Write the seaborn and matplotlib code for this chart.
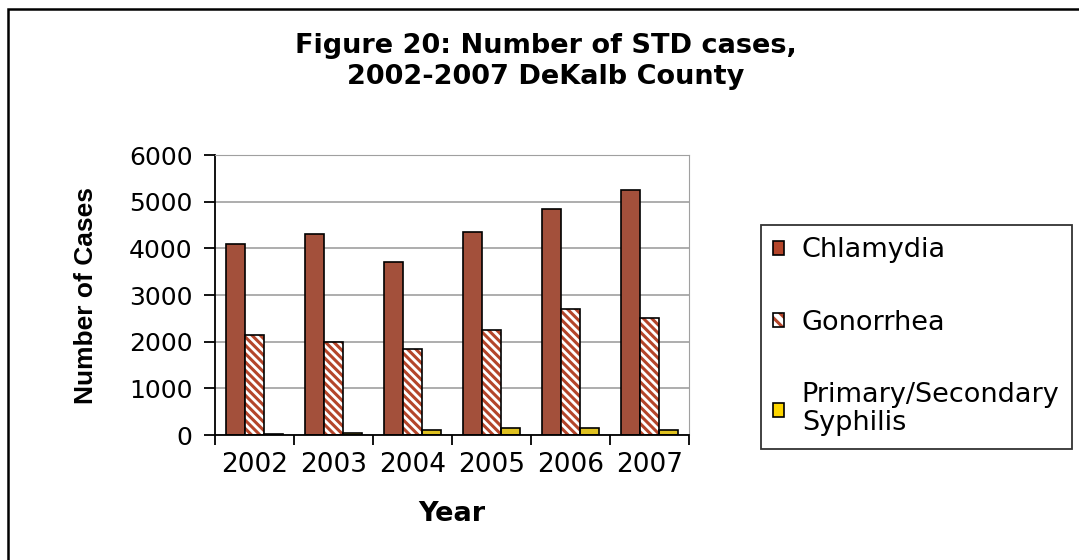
import pandas as pd
import seaborn as sns
import matplotlib.pyplot as plt
from matplotlib.patches import Rectangle, Patch
from matplotlib.legend_handler import HandlerTuple

years = ['2002', '2003', '2004', '2005', '2006', '2007']
chlamydia = [4100, 4300, 3700, 4350, 4850, 5250]
gonorrhea = [2150, 2000, 1850, 2250, 2700, 2500]
syphilis = [20, 50, 120, 150, 160, 100]
diseases = ['Chlamydia', 'Gonorrhea', 'Primary/Secondary\nSyphilis']

df = pd.DataFrame({
    'Year': years * 3,
    'Cases': chlamydia + gonorrhea + syphilis,
    'Disease': [d for d in diseases for _ in years],
})

rust = '#B4452A'
yellow = '#FFD700'

sns.set_style('white')
plt.rcParams['font.family'] = ['DejaVu Sans']
plt.rcParams['text.color'] = 'black'
plt.rcParams['xtick.color'] = 'black'
plt.rcParams['ytick.color'] = 'black'
plt.rcParams['axes.labelcolor'] = 'black'
plt.rcParams['hatch.linewidth'] = 2.2

fig = plt.figure(figsize=(10.79, 5.6), dpi=100)
ax = fig.add_axes([0.199, 0.223, 0.44, 0.5])

sns.barplot(data=df, x='Year', y='Cases', hue='Disease', hue_order=diseases,
            palette=[rust, 'white', yellow], width=0.72, edgecolor='black',
            linewidth=1.2, legend=False, ax=ax)

# gonorrhea bars: rust stripes on white, outline drawn on top
gono = [p for p in ax.patches if p.get_facecolor()[:3] == (1.0, 1.0, 1.0)]
for p in gono:
    p.set_hatch('\\\\\\\\')
    p.set_edgecolor(rust)
    p.set_linewidth(0)
    ax.add_patch(Rectangle(p.get_xy(), p.get_width(), p.get_height(),
                           fill=False, edgecolor='black', lw=1.2, zorder=p.get_zorder() + 0.1))

ax.set_ylim(0, 6000)
ax.set_xlim(-0.5, 5.5)
ax.set_yticks(range(0, 6001, 1000))
ax.yaxis.grid(True, color='#a0a0a0', lw=1.2)
ax.set_axisbelow(True)
for s in ['top', 'right']:
    ax.spines[s].set_color('#a0a0a0')
for s in ['left', 'bottom']:
    ax.spines[s].set_color('black')
    ax.spines[s].set_linewidth(1.3)
ax.tick_params(axis='y', left=True, length=8, width=1.3, labelsize=18, pad=8)
ax.tick_params(axis='x', bottom=False, labelsize=19, pad=9)
ax.set_xticks([i + 0.5 for i in range(-1, 6)], minor=True)
ax.tick_params(axis='x', which='minor', bottom=True, length=7, width=1.3)

ax.set_ylabel('Number of Cases', fontsize=19, fontweight='bold', fontfamily='Liberation Sans')
ax.yaxis.set_label_coords(-0.245, 0.5)
ax.set_xlabel('Year', fontsize=19.5, fontweight='bold')
ax.xaxis.set_label_coords(0.5, -0.235)

fig.text(0.506, 0.84, 'Figure 20: Number of STD cases,\n2002-2007 DeKalb County',
         ha='center', va='bottom', fontsize=19.5, fontweight='bold', linespacing=1.25)

handles = [
    Patch(facecolor=rust, edgecolor='black', lw=1.2),
    (Patch(facecolor='white', edgecolor=rust, hatch='\\\\\\', lw=0),
     Patch(fill=False, edgecolor='black', lw=1.2)),
    Patch(facecolor=yellow, edgecolor='black', lw=1.2),
]
leg = fig.legend(handles, diseases, loc='upper left', bbox_to_anchor=(0.705, 0.598),
                 handler_map={tuple: HandlerTuple(ndivide=1)},
                 fontsize=19.5, frameon=True, fancybox=False, edgecolor='black',
                 labelspacing=1.72, handlelength=0.42, handleheight=0.42,
                 handletextpad=0.65, borderpad=0.45, borderaxespad=0)
leg.get_frame().set_linewidth(1.3)
for t in leg.get_texts():
    t.set_linespacing(1.1)

fig.add_artist(Rectangle((0.0075, -0.05), 1.1, 1.034, transform=fig.transFigure,
                         fill=False, edgecolor='black', lw=1.8))

fig.savefig('out.png', dpi=100)
